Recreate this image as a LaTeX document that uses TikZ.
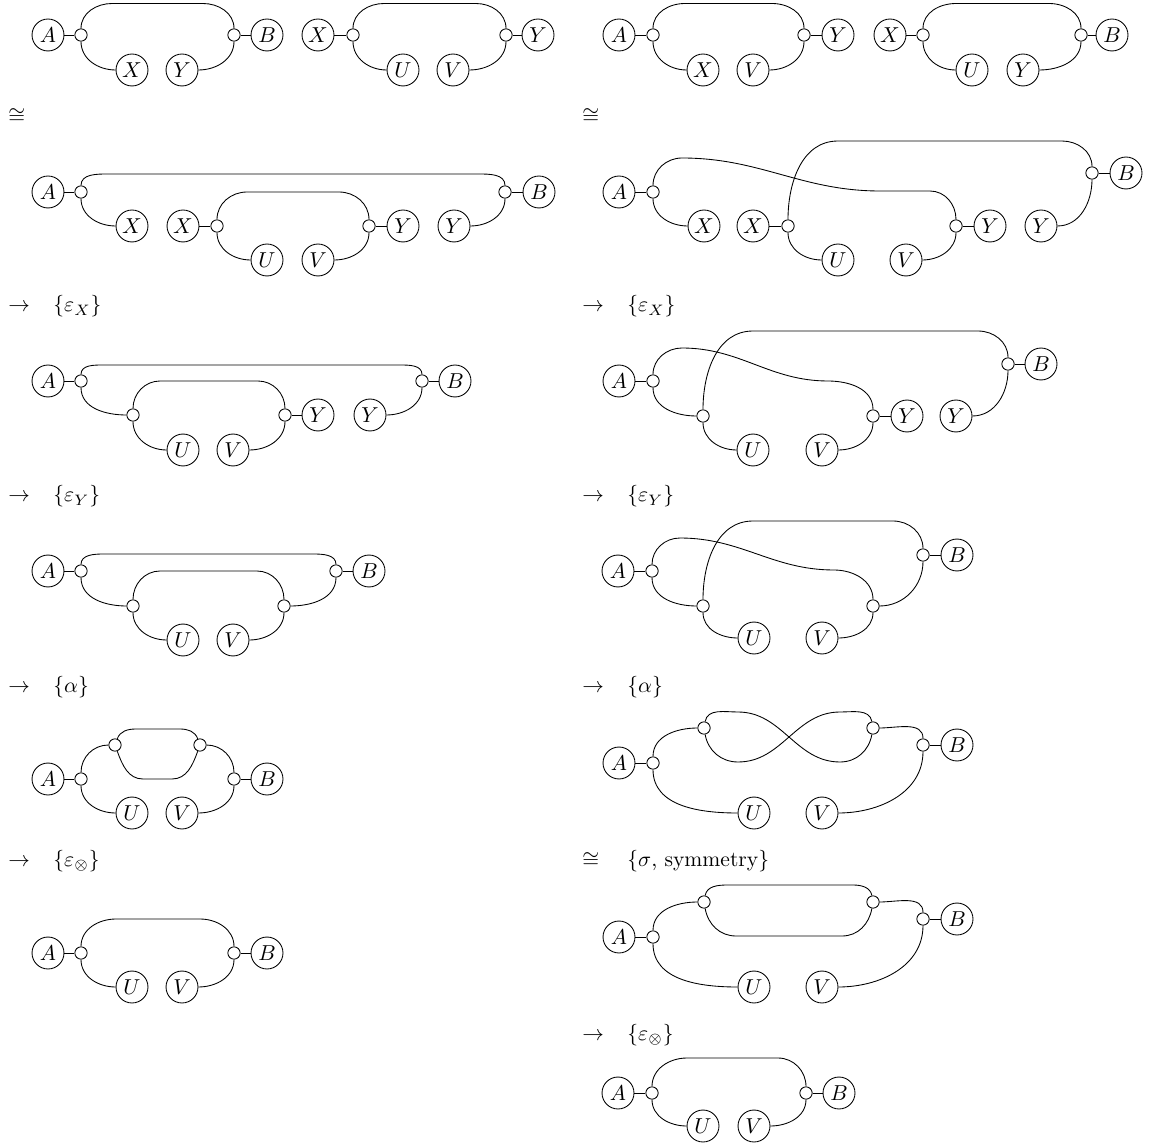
\documentclass[tikz,border=0pt]{standalone}
\usepackage{amsmath}
\usepackage{amssymb}

\begin{document}
\begin{tikzpicture}[
    x=0.463pt, y=0.463pt,
    obj/.style={circle, draw, inner sep=1pt, minimum size=14.8pt},
    junc/.style={circle, draw, inner sep=0pt, minimum size=5.7pt},
    rel/.style={anchor=base west, inner sep=0pt}
]
\useasboundingbox (0,0) rectangle (1159,-1146);

% Relations and justifications
\node[rel] (c1) at (8,-122) {$\cong$};
\node[rel] (c2) at (582,-122) {$\cong$};
\node[rel] (e1) at (8,-312) {$\rightarrow$};
\node[rel] (e1j) at (53,-312) {$\{\varepsilon_X\}$};
\node[rel] (e2) at (582,-312) {$\rightarrow$};
\node[rel] (e2j) at (627,-312) {$\{\varepsilon_X\}$};
\node[rel] (f1) at (8,-502) {$\rightarrow$};
\node[rel] (f1j) at (53,-502) {$\{\varepsilon_Y\}$};
\node[rel] (f2) at (582,-502) {$\rightarrow$};
\node[rel] (f2j) at (627,-502) {$\{\varepsilon_Y\}$};
\node[rel] (g1) at (8,-692) {$\rightarrow$};
\node[rel] (g1j) at (53,-692) {$\{\alpha\}$};
\node[rel] (g2) at (582,-692) {$\rightarrow$};
\node[rel] (g2j) at (627,-692) {$\{\alpha\}$};
\node[rel] (h1) at (8,-866) {$\rightarrow$};
\node[rel] (h1j) at (53,-866) {$\{\varepsilon_\otimes\}$};
\node[rel] (h2) at (582,-866) {$\cong$};
\node[rel] (h2j) at (627,-866) {$\{\sigma$, symmetry$\}$};
\node[rel] (k2) at (582,-1040) {$\rightarrow$};
\node[rel] (k2j) at (627,-1040) {$\{\varepsilon_\otimes\}$};

% Left 1: two pieces
\node[obj] (l1A) at (48,-35) {$A$};
\node[junc] (l1s) at (81,-35) {};
\node[obj] (l1X) at (132,-70) {$X$};
\node[obj] (l1Y) at (182,-70) {$Y$};
\node[junc] (l1t) at (234,-35) {};
\node[obj] (l1B) at (267,-35) {$B$};
\draw (l1A) -- (l1s);
\draw (l1t) -- (l1B);
\draw (l1s) to[out=90,in=180] (112,-3.5) -- (203,-3.5) to[out=0,in=90] (l1t);
\draw (l1s) to[out=-90,in=180] (l1X);
\draw (l1Y) to[out=0,in=-90] (l1t);

\node[obj] (m1X) at (318,-35) {$X$};
\node[junc] (m1s) at (353,-35) {};
\node[obj] (m1U) at (403,-70) {$U$};
\node[obj] (m1V) at (453,-70) {$V$};
\node[junc] (m1t) at (506,-35) {};
\node[obj] (m1Y) at (538,-35) {$Y$};
\draw (m1X) -- (m1s);
\draw (m1t) -- (m1Y);
\draw (m1s) to[out=90,in=180] (384,-3.5) -- (476,-3.5) to[out=0,in=90] (m1t);
\draw (m1s) to[out=-90,in=180] (m1U);
\draw (m1V) to[out=0,in=-90] (m1t);

% Left 2
\node[obj] (l2A) at (48,-192) {$A$};
\node[junc] (l2s) at (81,-192) {};
\node[obj] (l2X) at (132,-226) {$X$};
\node[obj] (l2Xb) at (183,-226) {$X$};
\node[junc] (l2u) at (217,-226) {};
\node[obj] (l2U) at (267,-260) {$U$};
\node[obj] (l2V) at (318,-260) {$V$};
\node[junc] (l2v) at (369,-226) {};
\node[obj] (l2Y) at (403,-226) {$Y$};
\node[obj] (l2Yb) at (454,-226) {$Y$};
\node[junc] (l2t) at (505,-192) {};
\node[obj] (l2B) at (539,-192) {$B$};
\draw (l2A) -- (l2s);
\draw (l2Xb) -- (l2u);
\draw (l2v) -- (l2Y);
\draw (l2t) -- (l2B);
\draw (l2s) to[out=90,in=180] (108,-174) -- (478,-174) to[out=0,in=90] (l2t);
\draw (l2s) to[out=-90,in=180] (l2X);
\draw (l2Yb) to[out=0,in=-90] (l2t);
\draw (l2u) to[out=90,in=180] (247,-192) -- (339,-192) to[out=0,in=90] (l2v);
\draw (l2u) to[out=-90,in=180] (l2U);
\draw (l2V) to[out=0,in=-90] (l2v);

% Left 3
\node[obj] (l3A) at (48,-381) {$A$};
\node[junc] (l3s) at (81,-381) {};
\node[junc] (l3u) at (133,-415) {};
\node[obj] (l3U) at (183,-450) {$U$};
\node[obj] (l3V) at (233,-450) {$V$};
\node[junc] (l3v) at (285,-415) {};
\node[obj] (l3Y) at (318,-415) {$Y$};
\node[obj] (l3Yb) at (370,-415) {$Y$};
\node[junc] (l3t) at (422,-381) {};
\node[obj] (l3B) at (455,-381) {$B$};
\draw (l3A) -- (l3s);
\draw (l3v) -- (l3Y);
\draw (l3t) -- (l3B);
\draw (l3s) to[out=90,in=180] (104,-365) -- (400,-365) to[out=0,in=90] (l3t);
\draw (l3u) to[out=90,in=180] (160,-381) -- (258,-381) to[out=0,in=90] (l3v);
\draw (l3s) to[out=-90,in=180] (l3u);
\draw (l3u) to[out=-90,in=180] (l3U);
\draw (l3V) to[out=0,in=-90] (l3v);
\draw (l3Yb) to[out=0,in=-90] (l3t);

% Left 4
\node[obj] (l4A) at (48,-571) {$A$};
\node[junc] (l4s) at (81,-571) {};
\node[junc] (l4u) at (133,-606) {};
\node[obj] (l4U) at (183,-640) {$U$};
\node[obj] (l4V) at (233,-640) {$V$};
\node[junc] (l4v) at (284,-606) {};
\node[junc] (l4t) at (336,-571) {};
\node[obj] (l4B) at (369,-571) {$B$};
\draw (l4A) -- (l4s);
\draw (l4t) -- (l4B);
\draw (l4s) to[out=90,in=180] (104,-554) -- (313,-554) to[out=0,in=90] (l4t);
\draw (l4u) to[out=90,in=180] (160,-571) -- (257,-571) to[out=0,in=90] (l4v);
\draw (l4s) to[out=-90,in=180] (l4u);
\draw (l4u) to[out=-90,in=180] (l4U);
\draw (l4V) to[out=0,in=-90] (l4v);
\draw (l4v) to[out=0,in=-90] (l4t);

% Left 5
\node[obj] (l5A) at (48,-779) {$A$};
\node[junc] (l5s) at (81,-779) {};
\node[junc] (l5p) at (115,-745) {};
\node[junc] (l5q) at (200,-745) {};
\node[junc] (l5t) at (234,-779) {};
\node[obj] (l5B) at (267,-779) {$B$};
\node[obj] (l5U) at (132,-813) {$U$};
\node[obj] (l5V) at (182,-813) {$V$};
\draw (l5A) -- (l5s);
\draw (l5t) -- (l5B);
\draw (l5s) to[out=90,in=180] (l5p);
\draw (l5q) to[out=0,in=90] (l5t);
\draw (l5p) to[out=70,in=180] (136,-729) -- (180,-729) to[out=0,in=110] (l5q);
\draw (l5p) to[out=-70,in=180] (143,-779) -- (172,-779) to[out=0,in=-110] (l5q);
\draw (l5s) to[out=-90,in=180] (l5U);
\draw (l5V) to[out=0,in=-90] (l5t);

% Left 6
\node[obj] (l6A) at (48,-953) {$A$};
\node[junc] (l6s) at (81,-953) {};
\node[obj] (l6U) at (132,-987) {$U$};
\node[obj] (l6V) at (182,-987) {$V$};
\node[junc] (l6t) at (234,-953) {};
\node[obj] (l6B) at (267,-953) {$B$};
\draw (l6A) -- (l6s);
\draw (l6t) -- (l6B);
\draw (l6s) to[out=90,in=180] (116,-919) -- (200,-919) to[out=0,in=90] (l6t);
\draw (l6s) to[out=-90,in=180] (l6U);
\draw (l6V) to[out=0,in=-90] (l6t);

% Right 1: two pieces
\node[obj] (r1A) at (619,-35) {$A$};
\node[junc] (r1s) at (653,-35) {};
\node[obj] (r1X) at (703,-70) {$X$};
\node[obj] (r1V) at (753,-70) {$V$};
\node[junc] (r1t) at (804,-35) {};
\node[obj] (r1Y) at (838,-35) {$Y$};
\draw (r1A) -- (r1s);
\draw (r1t) -- (r1Y);
\draw (r1s) to[out=90,in=180] (685,-3.5) -- (772,-3.5) to[out=0,in=90] (r1t);
\draw (r1s) to[out=-90,in=180] (r1X);
\draw (r1V) to[out=0,in=-90] (r1t);

\node[obj] (n1X) at (890,-35) {$X$};
\node[junc] (n1s) at (923,-35) {};
\node[obj] (n1U) at (972,-70) {$U$};
\node[obj] (n1Y) at (1023,-70) {$Y$};
\node[junc] (n1t) at (1081,-35) {};
\node[obj] (n1B) at (1112,-35) {$B$};
\draw (n1X) -- (n1s);
\draw (n1t) -- (n1B);
\draw (n1s) to[out=90,in=180] (956,-3.5) -- (1049,-3.5) to[out=0,in=90] (n1t);
\draw (n1s) to[out=-90,in=180] (n1U);
\draw (n1Y) to[out=0,in=-90] (n1t);

% Right 2
\node[obj] (r2A) at (619,-192) {$A$};
\node[junc] (r2s) at (653,-192) {};
\node[obj] (r2X) at (704,-226) {$X$};
\node[obj] (r2Xb) at (753,-226) {$X$};
\node[junc] (r2u) at (788,-226) {};
\node[obj] (r2U) at (838,-260) {$U$};
\node[obj] (r2V) at (906,-260) {$V$};
\node[junc] (r2v) at (956,-226) {};
\node[obj] (r2Y) at (990,-226) {$Y$};
\node[obj] (r2Yb) at (1041,-226) {$Y$};
\node[junc] (r2t) at (1092,-173) {};
\node[obj] (r2B) at (1126,-173) {$B$};
\draw (r2A) -- (r2s);
\draw (r2Xb) -- (r2u);
\draw (r2v) -- (r2Y);
\draw (r2t) -- (r2B);
\draw (r2s) to[out=90,in=180] (682,-158) to[out=0,in=180] (880,-191) -- (930,-191) to[out=0,in=90] (r2v);
\draw (r2s) to[out=-90,in=180] (r2X);
\draw (r2u) to[out=90,in=180] (838,-141) -- (1062,-141) to[out=0,in=90] (r2t);
\draw (r2u) to[out=-90,in=180] (r2U);
\draw (r2V) to[out=0,in=-90] (r2v);
\draw (r2Yb) to[out=0,in=-90] (r2t);

% Right 3
\node[obj] (r3A) at (619,-381) {$A$};
\node[junc] (r3s) at (653,-381) {};
\node[junc] (r3u) at (703,-416) {};
\node[obj] (r3U) at (753,-450) {$U$};
\node[obj] (r3V) at (822,-450) {$V$};
\node[junc] (r3v) at (873,-416) {};
\node[obj] (r3Y) at (907,-416) {$Y$};
\node[obj] (r3Yb) at (956,-416) {$Y$};
\node[junc] (r3t) at (1008,-364) {};
\node[obj] (r3B) at (1041,-364) {$B$};
\draw (r3A) -- (r3s);
\draw (r3v) -- (r3Y);
\draw (r3t) -- (r3B);
\draw (r3s) to[out=90,in=180] (682,-348) to[out=0,in=180] (828,-381) to[out=0,in=90] (r3v);
\draw (r3s) to[out=-90,in=180] (r3u);
\draw (r3u) to[out=90,in=180] (753,-331) -- (978,-331) to[out=0,in=90] (r3t);
\draw (r3u) to[out=-90,in=180] (r3U);
\draw (r3V) to[out=0,in=-90] (r3v);
\draw (r3Yb) to[out=0,in=-90] (r3t);

% Right 4
\node[obj] (r4A) at (618,-571) {$A$};
\node[junc] (r4s) at (652,-571) {};
\node[junc] (r4u) at (703,-606) {};
\node[obj] (r4U) at (754,-638) {$U$};
\node[obj] (r4V) at (822,-638) {$V$};
\node[junc] (r4v) at (873,-606) {};
\node[junc] (r4t) at (923,-555) {};
\node[obj] (r4B) at (957,-555) {$B$};
\draw (r4A) -- (r4s);
\draw (r4t) -- (r4B);
\draw (r4s) to[out=90,in=180] (680,-538) to[out=0,in=180] (834,-570) to[out=0,in=90] (r4v);
\draw (r4s) to[out=-90,in=180] (r4u);
\draw (r4u) to[out=90,in=180] (753,-521) -- (893,-521) to[out=0,in=90] (r4t);
\draw (r4u) to[out=-90,in=180] (r4U);
\draw (r4V) to[out=0,in=-90] (r4v);
\draw (r4v) to[out=0,in=-90] (r4t);

% Right 5
\node[obj] (r5A) at (619,-763) {$A$};
\node[junc] (r5s) at (653,-763) {};
\node[junc] (r5p) at (704,-728) {};
\node[junc] (r5q) at (873,-728) {};
\node[junc] (r5t) at (923,-745) {};
\node[obj] (r5B) at (957,-745) {$B$};
\node[obj] (r5U) at (754,-813) {$U$};
\node[obj] (r5V) at (822,-813) {$V$};
\draw (r5A) -- (r5s);
\draw (r5t) -- (r5B);
\draw (r5s) to[out=90,in=180] (r5p);
\draw (r5q) to[out=0,in=90] (r5t);
\draw (r5p) to[out=80,in=180] (738,-712) to[out=0,in=180] (840,-762) to[out=0,in=-100] (r5q);
\draw (r5p) to[out=-80,in=180] (738,-762) to[out=0,in=180] (840,-712) to[out=0,in=100] (r5q);
\draw (r5s) to[out=-90,in=180] (r5U);
\draw (r5V) to[out=0,in=-90] (r5t);

% Right 6
\node[obj] (r6A) at (619,-937) {$A$};
\node[junc] (r6s) at (653,-937) {};
\node[junc] (r6p) at (704,-902) {};
\node[junc] (r6q) at (873,-902) {};
\node[junc] (r6t) at (923,-919) {};
\node[obj] (r6B) at (957,-919) {$B$};
\node[obj] (r6U) at (754,-987) {$U$};
\node[obj] (r6V) at (822,-987) {$V$};
\draw (r6A) -- (r6s);
\draw (r6t) -- (r6B);
\draw (r6s) to[out=90,in=180] (r6p);
\draw (r6q) to[out=0,in=90] (r6t);
\draw (r6p) to[out=80,in=180] (728,-885) -- (853,-885) to[out=0,in=100] (r6q);
\draw (r6p) to[out=-80,in=180] (736,-936) -- (842,-936) to[out=0,in=-100] (r6q);
\draw (r6s) to[out=-90,in=180] (r6U);
\draw (r6V) to[out=0,in=-90] (r6t);

% Right 7
\node[obj] (r7A) at (618,-1093) {$A$};
\node[junc] (r7s) at (652,-1093) {};
\node[obj] (r7U) at (703,-1126) {$U$};
\node[obj] (r7V) at (754,-1126) {$V$};
\node[junc] (r7t) at (806,-1093) {};
\node[obj] (r7B) at (839,-1093) {$B$};
\draw (r7A) -- (r7s);
\draw (r7t) -- (r7B);
\draw (r7s) to[out=90,in=180] (687,-1058) -- (778,-1058) to[out=0,in=90] (r7t);
\draw (r7s) to[out=-90,in=180] (r7U);
\draw (r7V) to[out=0,in=-90] (r7t);

\end{tikzpicture}
\end{document}
